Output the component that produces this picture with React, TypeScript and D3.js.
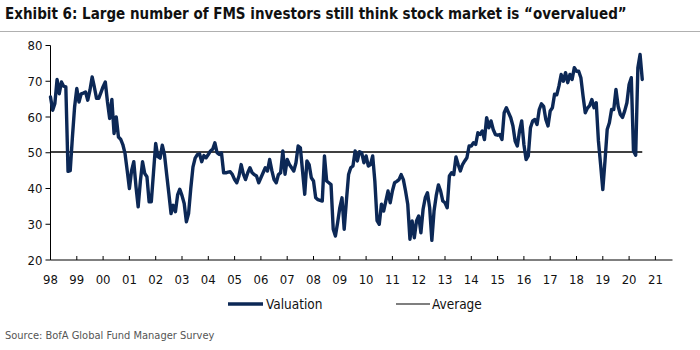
import React from "react";
import * as d3 from "d3";

// Monthly "% saying stock market is overvalued", starting Jan 1998
const startYear = 1998;
const valuation: number[] = [
  // 1998
  65.6, 61.9, 63.8, 70.5, 66.5, 69.8, 68.6, 68.4, 44.8, 45.0, 54.4, 62.8,
  // 1999
  68.0, 64.2, 66.5, 66.7, 67.0, 64.7, 67.5, 71.2, 68.4, 65.2, 65.2, 66.8,
  // 2000
  68.5, 69.8, 64.2, 59.6, 64.9, 55.4, 60.0, 54.4, 53.8, 52.3, 49.8, 45.0,
  // 2001
  40.0, 45.0, 47.5, 40.5, 34.9, 42.0, 47.5, 44.2, 43.3, 36.3, 36.3, 44.5,
  // 2002
  52.6, 48.9, 48.5, 52.1, 49.5, 44.0, 38.6, 33.0, 35.3, 33.5, 38.2, 39.8,
  // 2003
  38.0, 35.8, 30.7, 33.0, 40.0, 46.0, 48.5, 49.5, 49.7, 47.5, 49.2, 48.6,
  // 2004
  49.5, 50.5, 51.0, 52.8, 50.0, 49.5, 50.0, 44.4, 44.4, 44.6, 44.7, 43.9,
  // 2005
  42.5, 41.6, 43.5, 46.7, 44.0, 42.5, 44.4, 45.8, 44.4, 43.9, 43.5, 41.6,
  // 2006
  43.0, 44.4, 45.8, 44.9, 48.1, 45.0, 42.5, 41.6, 43.9, 44.4, 50.5, 44.0,
  // 2007
  48.1, 46.7, 45.8, 44.9, 47.2, 51.9, 51.4, 44.9, 38.4, 47.7, 46.7, 43.0,
  // 2008
  42.1, 37.4, 36.9, 36.7, 36.5, 49.1, 42.1, 41.6, 41.1, 28.6, 26.7, 30.4,
  // 2009
  34.6, 37.4, 28.6, 36.5, 43.9, 45.8, 46.3, 50.5, 47.7, 50.3, 50.0, 47.2,
  // 2010
  49.1, 46.3, 46.7, 49.1, 42.0, 31.0, 30.0, 35.6, 33.7, 36.5, 39.3, 36.0,
  // 2011
  39.3, 41.6, 42.0, 42.5, 43.9, 42.5, 39.3, 35.6, 25.8, 30.9, 26.2, 30.9,
  // 2012
  32.3, 27.6, 34.2, 37.4, 38.8, 34.6, 25.5, 33.7, 38.0, 41.0, 39.3, 36.5,
  // 2013
  36.0, 34.6, 43.5, 44.4, 43.9, 48.8, 46.7, 44.9, 46.7, 47.7, 48.6, 51.9,
  // 2014
  51.9, 52.8, 52.3, 55.6, 55.1, 56.1, 53.7, 59.8, 57.0, 58.9, 56.5, 55.1,
  // 2015
  54.9, 55.1, 53.7, 61.2, 62.6, 61.2, 59.8, 57.5, 53.3, 51.9, 56.1, 58.9,
  // 2016
  52.3, 48.1, 49.1, 57.0, 58.9, 59.3, 57.9, 62.1, 63.7, 63.0, 59.3, 57.5,
  // 2017
  61.7, 62.6, 66.4, 66.2, 68.7, 71.9, 70.0, 72.4, 69.6, 71.9, 70.5, 73.8,
  // 2018
  72.8, 72.8, 71.0, 65.8, 61.2, 62.5, 63.2, 64.9, 62.6, 64.0, 53.3, 46.7,
  // 2019
  39.7, 47.7, 56.5, 58.4, 62.1, 62.1, 67.7, 63.0, 60.7, 59.9, 61.7, 64.0,
  // 2020
  69.1, 71.0, 50.5, 49.3, 73.8, 77.5, 70.5,
];
const averageValue = 50.2;

const yearTicks: number[] = d3.range(1998, 2022);
const yTicks: number[] = [20, 30, 40, 50, 60, 70, 80];

const title =
  "Exhibit 6: Large number of FMS investors still think stock market is \u201Covervalued\u201D";
const source = "Source: BofA Global Fund Manager Survey";
const legendLabels = ["Valuation", "Average"];

const NAVY = "#0c2856";
const narrow =
  "'Liberation Sans Narrow', 'Arial Narrow', 'DejaVu Sans Condensed', 'Roboto Condensed', 'Liberation Sans', Arial, sans-serif";

export default function App() {
  const W = 700;
  const H = 350;
  const x = d3.scaleLinear().domain([1998, 2021.65]).range([50.5, 672.5]);
  const y = d3.scaleLinear().domain([20, 80]).range([260, 45.5]);

  const pts = valuation.map((v, i) => ({ t: startYear + i / 12, v }));
  const line = d3
    .line<{ t: number; v: number }>()
    .x((d) => x(d.t))
    .y((d) => y(d.v))
    .curve(d3.curveLinear);

  const tEnd = startYear + (valuation.length - 1) / 12;

  return (
    <svg
      width={W}
      height={H}
      style={{ position: "absolute", left: 0, top: 0, background: "#fff" }}
    >
      <text
        x={5}
        y={19}
        fontFamily={narrow}
        fontWeight="bold"
        fontSize={15}
        fill="#111"
      >
        {title}
      </text>
      <line x1={0} x2={W} y1={31.5} y2={31.5} stroke="#b0b0b0" strokeWidth={1} />

      {/* y axis */}
      <line x1={x(1998)} x2={x(1998)} y1={y(80)} y2={y(20)} stroke="#000" strokeWidth={1} />
      {yTicks.map((t) => (
        <g key={t}>
          <line x1={x(1998) - 5} x2={x(1998)} y1={y(t)} y2={y(t)} stroke="#000" />
          <text
            x={x(1998) - 8}
            y={y(t)}
            dy="0.35em"
            textAnchor="end"
            fontFamily={narrow}
            fontSize={13}
            fill="#111"
          >
            {t}
          </text>
        </g>
      ))}

      {/* x axis */}
      <line x1={x(1998)} x2={x(2021.65)} y1={y(20)} y2={y(20)} stroke="#000" strokeWidth={1} />
      {yearTicks.map((yr) => (
        <g key={yr}>
          <line x1={x(yr)} x2={x(yr)} y1={y(20)} y2={y(20) - 4} stroke="#000" />
          <text
            x={x(yr)}
            y={y(20) + 24}
            textAnchor="middle"
            fontFamily={narrow}
            fontSize={13}
            fill="#111"
          >
            {String(yr % 100).padStart(2, "0")}
          </text>
        </g>
      ))}

      {/* average */}
      <line
        x1={x(1998)}
        x2={x(tEnd)}
        y1={y(averageValue)}
        y2={y(averageValue)}
        stroke="#000"
        strokeWidth={1.5}
      />

      {/* valuation */}
      <path
        d={line(pts) || ""}
        fill="none"
        stroke={NAVY}
        strokeWidth={3.4}
        strokeLinejoin="round"
        strokeLinecap="round"
      />

      {/* legend */}
      <line x1={228} x2={263} y1={304} y2={304} stroke={NAVY} strokeWidth={3.5} />
      <text x={266} y={304} dy="0.35em" fontFamily={narrow} fontSize={13.5} fill="#111">
        {legendLabels[0]}
      </text>
      <line x1={396} x2={430} y1={304} y2={304} stroke="#000" strokeWidth={1.2} />
      <text x={432} y={304} dy="0.35em" fontFamily={narrow} fontSize={13.5} fill="#111">
        {legendLabels[1]}
      </text>

      <text
        x={5}
        y={339}
        fontFamily={narrow}
        fontSize={11}
        fill="#555"
      >
        {source}
      </text>
    </svg>
  );
}
